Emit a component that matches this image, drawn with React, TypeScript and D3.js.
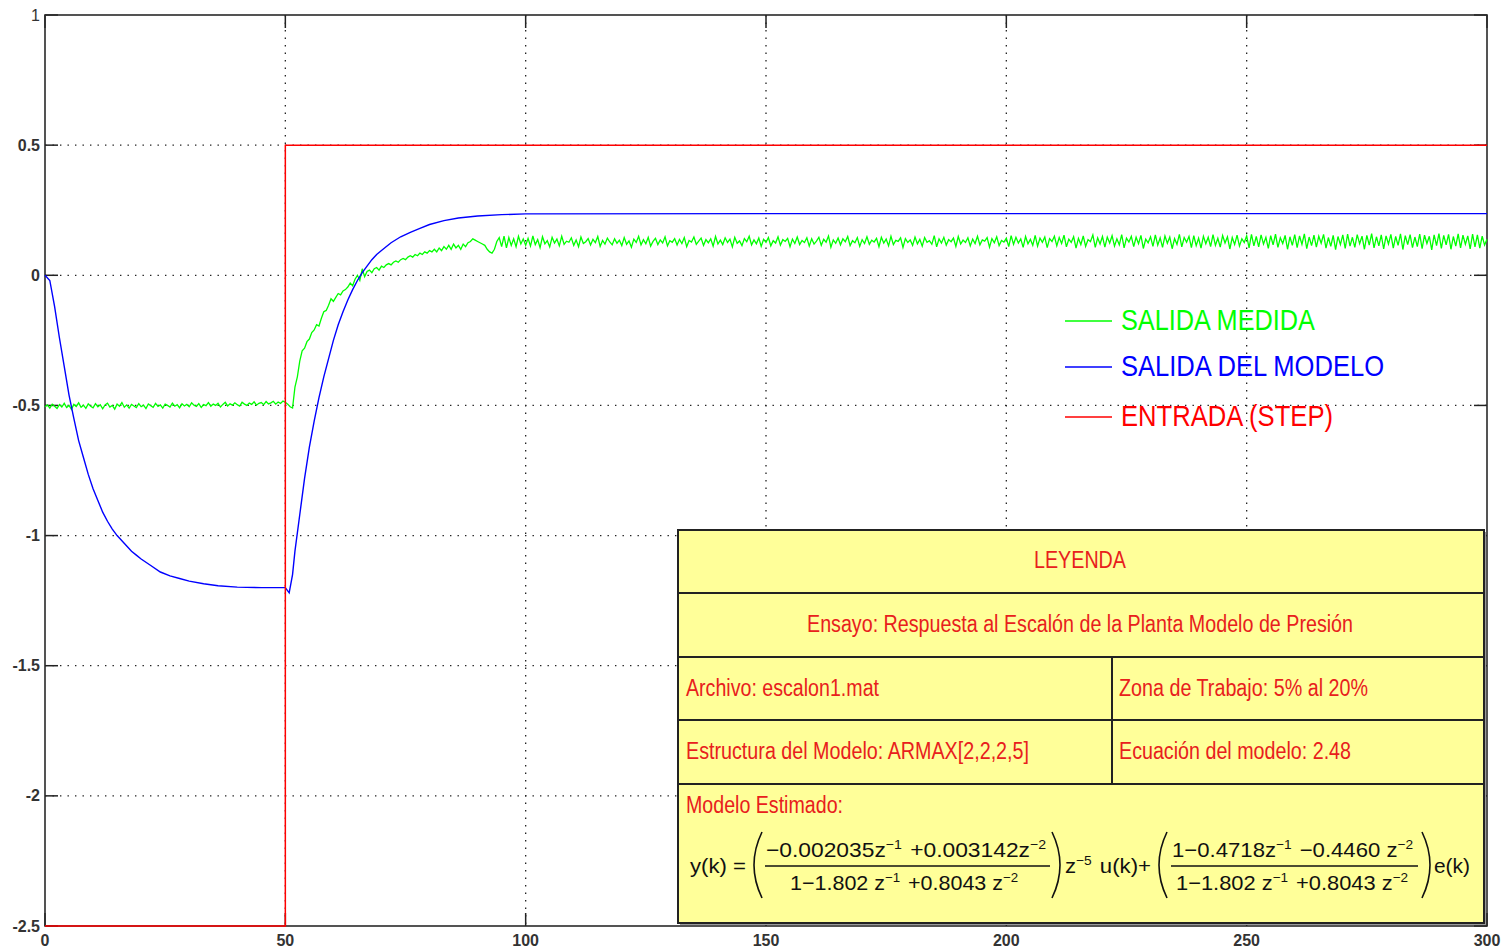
import React from "react";
import { scaleLinear, line } from "d3";

// ---- data ----
const xTicks = [0, 50, 100, 150, 200, 250, 300];
const xTickLabels = ["0", "50", "100", "150", "200", "250", "300"];
const yTicks = [1, 0.5, 0, -0.5, -1, -1.5, -2, -2.5];
const yTickLabels = ["1", "0.5", "0", "-0.5", "-1", "-1.5", "-2", "-2.5"];

// step input
const redT = [0, 50, 50, 300];
const redV = [-2.5, -2.5, 0.5, 0.5];

// model output (blue)
const blueT = [0, 1, 2, 3, 4, 5, 6, 7, 8, 9, 10, 11, 12, 13, 14, 15, 16, 17, 18, 19, 20, 22, 24, 26, 28, 30, 33, 36, 40, 45, 50,
  50.8, 51.5, 52, 53, 54, 55, 56, 57, 58, 59, 60, 61, 62, 63, 64, 65, 66, 67, 68, 69, 70, 72, 74, 76, 78, 80, 83, 86, 90, 95, 100, 150, 200, 250, 300];
const blueV = [0, -0.02, -0.12, -0.24, -0.35, -0.46, -0.55, -0.635, -0.70, -0.765, -0.82, -0.865, -0.91, -0.945, -0.975, -1.0, -1.02, -1.04, -1.06, -1.075, -1.09, -1.115, -1.14, -1.155, -1.165, -1.175, -1.185, -1.193, -1.198, -1.2, -1.2,
  -1.22, -1.15, -1.06, -0.92, -0.78, -0.66, -0.56, -0.47, -0.39, -0.32, -0.25, -0.19, -0.14, -0.095, -0.055, -0.02, 0.01, 0.035, 0.06, 0.08, 0.095, 0.125, 0.148, 0.165, 0.18, 0.195, 0.21, 0.22, 0.228, 0.233, 0.236, 0.237, 0.237, 0.237, 0.237];

// measured output (green), one sample every 0.5
const greenPre = [
  -0.505, -0.498, -0.510, -0.495, -0.503, -0.512, -0.497, -0.506, -0.492, -0.508,
  -0.500, -0.515, -0.496, -0.504, -0.490, -0.507, -0.499, -0.511, -0.494, -0.503,
  -0.509, -0.493, -0.505, -0.497, -0.513, -0.498, -0.491, -0.506, -0.500, -0.514,
  -0.495, -0.503, -0.489, -0.507, -0.498, -0.510, -0.496, -0.502, -0.508, -0.493,
  -0.505, -0.499, -0.512, -0.494, -0.501, -0.507, -0.492, -0.504, -0.498, -0.510,
  -0.495, -0.500, -0.506, -0.491, -0.503, -0.497, -0.509, -0.494, -0.502, -0.496,
  -0.505, -0.490, -0.499, -0.504, -0.493, -0.508, -0.497, -0.501, -0.489, -0.503,
  -0.495, -0.500, -0.492, -0.506, -0.496, -0.488, -0.502, -0.494, -0.499, -0.490,
  -0.497, -0.503, -0.488, -0.495, -0.500, -0.491, -0.496, -0.486, -0.499, -0.492,
  -0.489, -0.497, -0.485, -0.494, -0.490, -0.484, -0.495, -0.487, -0.492, -0.483,
  -0.488,
];
const greenRise = [
  -0.495, -0.505, -0.510, -0.430, -0.390, -0.330, -0.290, -0.280, -0.255, -0.245,
  -0.220, -0.210, -0.190, -0.195, -0.165, -0.140, -0.135, -0.115, -0.090, -0.100,
  -0.085, -0.070, -0.075, -0.060, -0.055, -0.045, -0.030, -0.040, -0.015, 0.000,
  -0.020, 0.025, -0.005, 0.015, 0.020, 0.010, 0.025, 0.030, 0.020, 0.035,
  0.030, 0.040, 0.045, 0.040, 0.050, 0.055, 0.050, 0.060, 0.065, 0.060,
  0.070, 0.075, 0.070, 0.080, 0.075, 0.085, 0.080, 0.090, 0.085, 0.095,
  0.090, 0.100, 0.090, 0.105, 0.095, 0.110, 0.100, 0.115, 0.100, 0.120,
  0.105, 0.115, 0.100, 0.120, 0.110, 0.125, 0.130, 0.140, 0.135, 0.130,
  0.125, 0.120, 0.115, 0.100, 0.090, 0.085, 0.100, 0.130, 0.145, 0.110,
  0.150, 0.105, 0.145, 0.115, 0.140, 0.110, 0.150, 0.120, 0.140, 0.115,
];
const greenSteady = [
  0.142, 0.112, 0.151, 0.118, 0.137, 0.106, 0.148, 0.121, 0.133, 0.109, 0.146, 0.124, 0.139, 0.113, 0.150, 0.119, 0.131, 0.127, 0.144, 0.115,
  0.136, 0.110, 0.147, 0.122, 0.129, 0.141, 0.116, 0.138, 0.125, 0.149, 0.111, 0.134, 0.120, 0.143, 0.128, 0.117, 0.140, 0.123, 0.135, 0.114,
  0.145, 0.119, 0.132, 0.108, 0.139, 0.126, 0.150, 0.117, 0.137, 0.121, 0.146, 0.112, 0.130, 0.142, 0.118, 0.136, 0.124, 0.148, 0.113, 0.133,
  0.127, 0.141, 0.116, 0.138, 0.122, 0.145, 0.110, 0.134, 0.128, 0.147, 0.119, 0.131, 0.143, 0.115, 0.137, 0.125, 0.140, 0.112, 0.149, 0.120,
  0.135, 0.118, 0.144, 0.126, 0.139, 0.109, 0.146, 0.123, 0.132, 0.114, 0.141, 0.129, 0.150, 0.117, 0.136, 0.121, 0.143, 0.111, 0.138, 0.127,
  0.145, 0.113, 0.133, 0.124, 0.148, 0.116, 0.137, 0.130, 0.142, 0.110, 0.139, 0.122, 0.147, 0.118, 0.134, 0.126, 0.144, 0.112, 0.140, 0.120,
  0.131, 0.146, 0.115, 0.138, 0.127, 0.151, 0.108, 0.136, 0.123, 0.143, 0.117, 0.140, 0.129, 0.149, 0.114, 0.133, 0.125, 0.145, 0.111, 0.137,
  0.122, 0.148, 0.119, 0.135, 0.128, 0.142, 0.110, 0.146, 0.124, 0.139, 0.113, 0.150, 0.118, 0.134, 0.130, 0.144, 0.107, 0.141, 0.126, 0.136,
  0.115, 0.147, 0.121, 0.138, 0.112, 0.145, 0.127, 0.133, 0.119, 0.152, 0.109, 0.140, 0.124, 0.146, 0.116, 0.137, 0.129, 0.143, 0.111, 0.149,
  0.120, 0.135, 0.126, 0.144, 0.113, 0.139, 0.122, 0.150, 0.117, 0.136, 0.131, 0.145, 0.108, 0.141, 0.125, 0.148, 0.114, 0.134, 0.128, 0.143,
  0.110, 0.152, 0.119, 0.146, 0.124, 0.140, 0.107, 0.149, 0.121, 0.138, 0.115, 0.153, 0.112, 0.143, 0.127, 0.147, 0.106, 0.141, 0.130, 0.150,
  0.113, 0.145, 0.122, 0.154, 0.109, 0.139, 0.126, 0.148, 0.104, 0.142, 0.118, 0.151, 0.111, 0.137, 0.129, 0.155, 0.107, 0.144, 0.120, 0.149,
  0.108, 0.147, 0.124, 0.152, 0.112, 0.140, 0.117, 0.156, 0.105, 0.143, 0.128, 0.150, 0.110, 0.146, 0.121, 0.153, 0.103, 0.139, 0.125, 0.148,
  0.111, 0.155, 0.116, 0.144, 0.107, 0.151, 0.123, 0.147, 0.102, 0.141, 0.119, 0.157, 0.109, 0.145, 0.127, 0.149, 0.106, 0.152, 0.114, 0.143,
  0.104, 0.150, 0.121, 0.146, 0.110, 0.156, 0.115, 0.142, 0.108, 0.153, 0.124, 0.148, 0.101, 0.145, 0.118, 0.154, 0.112, 0.140, 0.126, 0.151,
  0.105, 0.157, 0.113, 0.149, 0.109, 0.155, 0.120, 0.146, 0.103, 0.152, 0.117, 0.158, 0.107, 0.144, 0.122, 0.153, 0.100, 0.148, 0.115, 0.156,
  0.106, 0.151, 0.119, 0.159, 0.102, 0.147, 0.114, 0.154, 0.108, 0.150, 0.123, 0.157, 0.104, 0.145, 0.111, 0.153, 0.099, 0.149, 0.118, 0.155,
  0.103, 0.158, 0.112, 0.146, 0.107, 0.156, 0.121, 0.150, 0.100, 0.153, 0.116, 0.160, 0.105, 0.148, 0.113, 0.155, 0.101, 0.151, 0.120, 0.157,
  0.104, 0.149, 0.115, 0.159, 0.099, 0.152, 0.118, 0.156, 0.106, 0.147, 0.110, 0.158, 0.102, 0.154, 0.122, 0.150, 0.098, 0.155, 0.114, 0.160,
  0.103, 0.153, 0.117, 0.157, 0.100, 0.149, 0.112, 0.159, 0.105, 0.154, 0.119, 0.151, 0.101, 0.158, 0.109, 0.155, 0.104, 0.150, 0.116, 0.138,
];
const greenV = [...greenPre, ...greenRise, ...greenSteady];
const greenDt = 0.5;

const legendNames = ["SALIDA MEDIDA", "SALIDA DEL MODELO", "ENTRADA (STEP)"];
const legendColors = ["#00ff00", "#0000ff", "#ff0000"];

const W = 1503;
const H = 952;
const plot = { left: 45, right: 1487, top: 15, bottom: 926 };
const narrow = "'Liberation Sans Narrow', 'Arial Narrow', 'Liberation Sans', Arial, sans-serif";
const TBL_RED = "#e8201c";

const Sup = ({ children }: { children: string }) => (
  <>
    <tspan dy={-8} fontSize={13}>{children}</tspan>
    <tspan dy={8}>{"\u200a"}</tspan>
  </>
);

export default function App() {
  const x = scaleLinear().domain([0, 300]).range([plot.left, plot.right]);
  const y = scaleLinear().domain([-2.5, 1]).range([plot.bottom, plot.top]);
  const path = line<[number, number]>()
    .x((d) => x(d[0]))
    .y((d) => y(d[1]));

  const greenPts = greenV.map((v, i) => [i * greenDt, v] as [number, number]);
  const bluePts = blueT.map((t, i) => [t, blueV[i]] as [number, number]);
  const redPts = redT.map((t, i) => [t, redV[i]] as [number, number]);

  const tick = 13;
  const legendY = [321, 367, 417];

  // yellow table
  const tb = { l: 678, r: 1484, t: 530, b: 923 };
  const rows = [593, 657, 720, 784];
  const colX = 1112;

  return (
    <svg width={W} height={H} style={{ position: "absolute", left: 0, top: 0, background: "#fff" }}>
      <rect x={0} y={0} width={W} height={H} fill="#fff" />
      {/* grid */}
      <g stroke="#222" strokeWidth={1.3} strokeDasharray="1.4,6.1">
        {xTicks.slice(1, -1).map((t) => (
          <line key={"gx" + t} x1={x(t)} x2={x(t)} y1={plot.top} y2={plot.bottom} />
        ))}
        {yTicks.slice(1, -1).map((t) => (
          <line key={"gy" + t} x1={plot.left} x2={plot.right} y1={y(t)} y2={y(t)} />
        ))}
      </g>
      {/* ticks */}
      <g stroke="#222" strokeWidth={1.5}>
        {xTicks.map((t) => (
          <g key={"tx" + t}>
            <line x1={x(t)} x2={x(t)} y1={plot.bottom} y2={plot.bottom - tick} />
            <line x1={x(t)} x2={x(t)} y1={plot.top} y2={plot.top + tick} />
          </g>
        ))}
        {yTicks.map((t) => (
          <g key={"ty" + t}>
            <line x1={plot.left} x2={plot.left + tick} y1={y(t)} y2={y(t)} />
            <line x1={plot.right} x2={plot.right - tick} y1={y(t)} y2={y(t)} />
          </g>
        ))}
      </g>
      {/* frame */}
      <rect x={plot.left} y={plot.top} width={plot.right - plot.left} height={plot.bottom - plot.top}
        fill="none" stroke="#2a2a2a" strokeWidth={1.6} />

      {/* series */}
      <path d={path(greenPts) || ""} fill="none" stroke="#00ff00" strokeWidth={1.3} />
      <path d={path(bluePts) || ""} fill="none" stroke="#0000ff" strokeWidth={1.4} />
      <path d={path(redPts) || ""} fill="none" stroke="#ff0000" strokeWidth={1.5} />

      {/* tick labels */}
      <g fontFamily={narrow} fontSize={16} fill="#333">
        {yTicks.map((t, i) => (
          <text key={"ly" + t} x={plot.left - 5} y={y(t)} dy="0.35em" textAnchor="end" fontWeight={i === 0 ? 400 : 700}>
            {yTickLabels[i]}
          </text>
        ))}
        {xTicks.map((t, i) => (
          <text key={"lx" + t} x={x(t)} y={plot.bottom + 20} textAnchor="middle" fontWeight={700}>
            {xTickLabels[i]}
          </text>
        ))}
      </g>

      {/* series legend */}
      <g fontFamily={narrow} fontSize={29}>
        {legendNames.map((n, i) => (
          <g key={n}>
            <line x1={1065} x2={1112} y1={legendY[i]} y2={legendY[i]} stroke={legendColors[i]} strokeWidth={1.4} />
            <text x={1121} y={legendY[i] + 8} dy="0.05em" fill={legendColors[i]}
              textLength={[194, 263, 212][i]} lengthAdjust="spacingAndGlyphs">
              {n}
            </text>
          </g>
        ))}
      </g>

      {/* yellow table */}
      <g>
        <rect x={tb.l + 2} y={tb.t + 2} width={tb.r - tb.l} height={tb.b - tb.t} fill="#9a9a9a" />
        <rect x={tb.l} y={tb.t} width={tb.r - tb.l} height={tb.b - tb.t} fill="#ffff99" stroke="#222" strokeWidth={2} />
        {rows.map((r) => (
          <line key={"r" + r} x1={tb.l} x2={tb.r} y1={r} y2={r} stroke="#222" strokeWidth={2} />
        ))}
        <line x1={colX} x2={colX} y1={rows[1]} y2={rows[3]} stroke="#222" strokeWidth={2} />
        <g fontFamily={narrow} fontSize={23} fill={TBL_RED}>
          <text x={1080} y={568} textAnchor="middle" textLength={92} lengthAdjust="spacingAndGlyphs">LEYENDA</text>
          <text x={807} y={632} textLength={546} lengthAdjust="spacingAndGlyphs">Ensayo: Respuesta al Escalón de la Planta Modelo de Presión</text>
          <text x={686} y={696} textLength={193} lengthAdjust="spacingAndGlyphs">Archivo: escalon1.mat</text>
          <text x={1119} y={696} textLength={249} lengthAdjust="spacingAndGlyphs">Zona de Trabajo: 5% al 20%</text>
          <text x={686} y={759} textLength={343} lengthAdjust="spacingAndGlyphs">Estructura del Modelo: ARMAX[2,2,2,5]</text>
          <text x={1119} y={759} textLength={232} lengthAdjust="spacingAndGlyphs">Ecuación del modelo: 2.48</text>
          <text x={686} y={813} textLength={157} lengthAdjust="spacingAndGlyphs">Modelo Estimado:</text>
        </g>
        {/* model equation */}
        <g fontFamily={narrow} fontSize={21} fill="#111">
          <text x={690} y={873} textLength={56} lengthAdjust="spacingAndGlyphs">y(k) =</text>
          <text x={766} y={857} textLength={282} lengthAdjust="spacingAndGlyphs">
            −0.002035z<Sup>−1</Sup> +0.003142z<Sup>−2</Sup>
          </text>
          <text x={790} y={890} textLength={230} lengthAdjust="spacingAndGlyphs">
            1−1.802 z<Sup>−1</Sup> +0.8043 z<Sup>−2</Sup>
          </text>
          <text x={1065} y={873} textLength={86} lengthAdjust="spacingAndGlyphs">
            z<Sup>−5</Sup> u(k)+
          </text>
          <text x={1172} y={857} textLength={243} lengthAdjust="spacingAndGlyphs">
            1−0.4718z<Sup>−1</Sup> −0.4460 z<Sup>−2</Sup>
          </text>
          <text x={1176} y={890} textLength={234} lengthAdjust="spacingAndGlyphs">
            1−1.802 z<Sup>−1</Sup> +0.8043 z<Sup>−2</Sup>
          </text>
          <text x={1434} y={873} textLength={36} lengthAdjust="spacingAndGlyphs">e(k)</text>
        </g>
        <g stroke="#111" fill="none" strokeWidth={1.6}>
          <line x1={765} x2={1050} y1={866} y2={866} />
          <line x1={1171} x2={1418} y1={866} y2={866} />
          <path d="M 762 832 Q 746 865 762 898" />
          <path d="M 1052 832 Q 1068 865 1052 898" />
          <path d="M 1167 832 Q 1151 865 1167 898" />
          <path d="M 1422 832 Q 1438 865 1422 898" />
        </g>
      </g>
    </svg>
  );
}
